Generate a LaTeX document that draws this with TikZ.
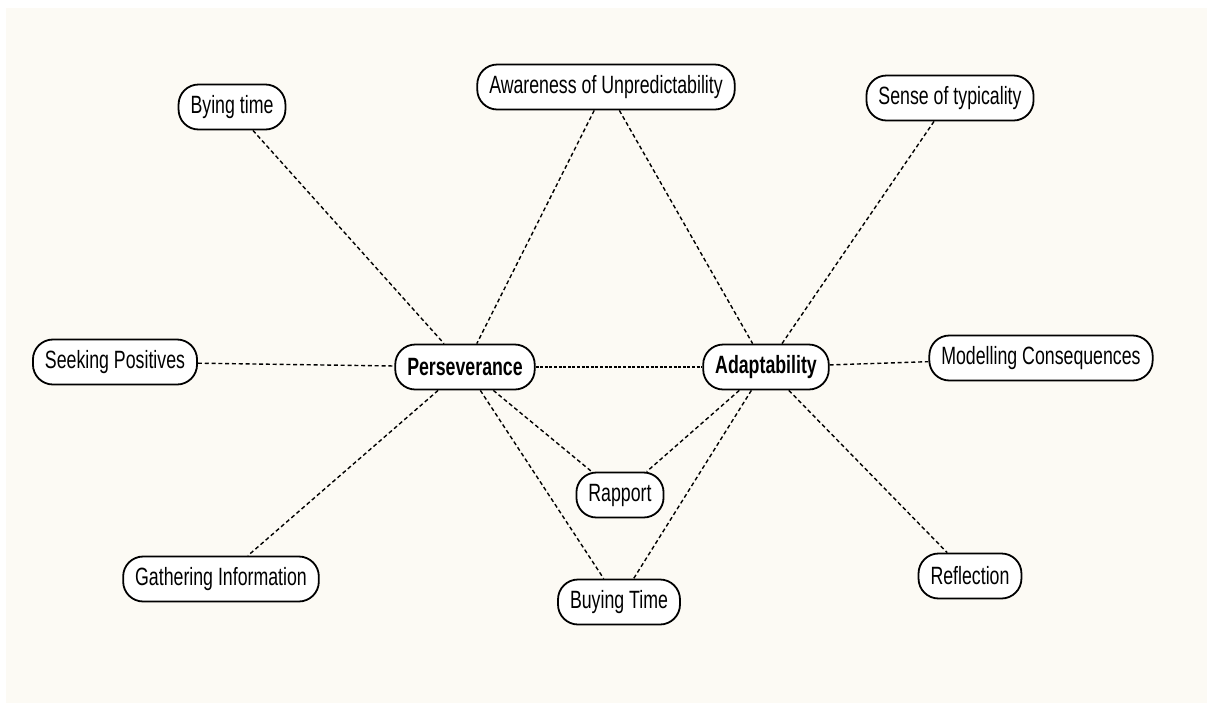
\documentclass[tikz,border=0pt]{standalone}
\usepackage{fontspec}
\setmainfont[FakeStretch=0.71]{Liberation Sans}
\definecolor{cream}{RGB}{252,250,244}

\tikzset{
    concept/.style={shape=rectangle,rounded corners=10pt,draw=black,line width=0.9pt,fill=white,minimum height=22.5pt,inner xsep=6pt,font=\fontsize{12.5}{14}\selectfont},
    link/.style={dashed,dash pattern=on 2pt off 1.4pt,line width=0.7pt},
}

\begin{document}
\begin{tikzpicture}[x=0.5pt,y=-0.5pt]
        \useasboundingbox (0,0) rectangle (1207,703);
        \fill[white] (0,0) rectangle (1207,703);
        \fill[cream] (6,8) rectangle (1207,703);
        \node[concept,font=\fontsize{12.5}{14}\selectfont\bfseries](pers) at (465,367) {Perseverance};
        \node[concept,font=\fontsize{12.5}{14}\selectfont\bfseries](adapt) at (766,367) {Adaptability};
        \node[concept](bying) at (232,107) {Bying time};
        \node[concept](aware) at (606,87) {Awareness of Unpredictability};
        \node[concept](sense) at (950,98) {Sense of typicality};
        \node[concept](seek) at (115,362) {Seeking Positives};
        \node[concept](model) at (1041,358) {Modelling Consequences};
        \node[concept](rapport) at (620,495) {Rapport};
        \node[concept](buying) at (619,602) {Buying Time};
        \node[concept](gather) at (221,579) {Gathering Information};
        \node[concept](reflect) at (970,576) {Reflection};
        \path (bying) edge[link] (pers);
        \path (aware) edge[link] (pers);
        \path (aware) edge[link] (adapt);
        \path (sense) edge[link] (adapt);
        \path (seek) edge[link] (pers);
        \path (pers) edge[link,dash pattern=on 1.5pt off 0.8pt] (adapt);
        \path (adapt) edge[link] (model);
        \path (pers) edge[link] (gather);
        \path (pers) edge[link] (rapport);
        \path (pers) edge[link] (buying);
        \path (adapt) edge[link] (rapport);
        \path (adapt) edge[link] (buying);
        \path (adapt) edge[link] (reflect);
    \end{tikzpicture}
\end{document}
